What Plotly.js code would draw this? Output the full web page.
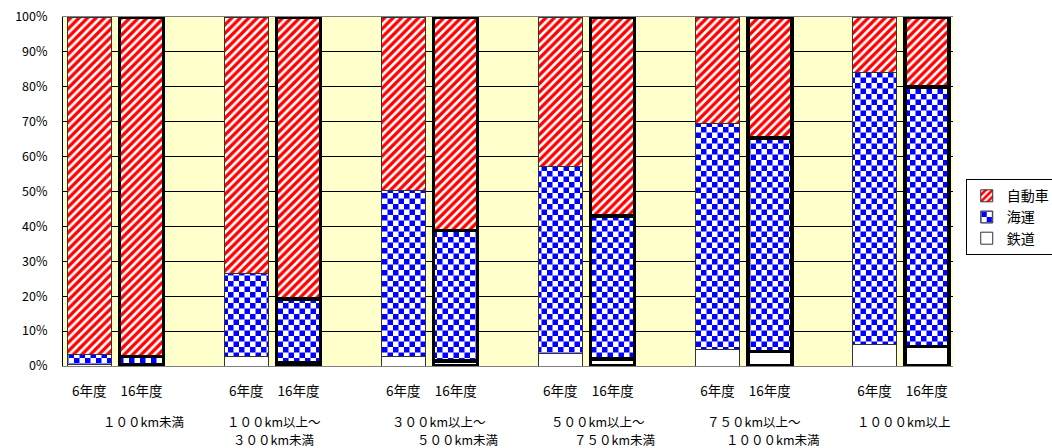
<!DOCTYPE html>
<html>
<head>
<meta charset="utf-8">
<script src="https://cdn.plot.ly/plotly-3.0.1.min.js"></script>
<style>html,body{margin:0;padding:0;background:#fff;}#chart{width:1052px;height:448px;}</style>
</head>
<body>
<div id="chart"></div>
<script>
// ---- data (percent shares) ----
const yearLabels = ["6年度", "16年度"];
const groupLine1 = ["１００km未満", "１００km以上～", "３００km以上～", "５００km以上～", "７５０km以上～", "１０００km以上"];
const groupLine2 = ["", "３００km未満", "５００km未満", "７５０km未満", "１０００km未満", ""];
// order per group: [6年度, 16年度]
const rail  = [0.3, 0.4, 2.6, 1.0, 2.7, 1.4, 3.7, 2.0, 4.8, 4.1, 6.2, 5.6];
const sea   = [2.9, 2.3, 24.0, 18.2, 47.5, 37.4, 53.6, 41.0, 64.8, 61.2, 77.8, 74.4];
const truck = [96.8, 97.3, 73.4, 80.8, 49.8, 61.2, 42.7, 57.0, 30.4, 34.7, 16.0, 20.0];
const seriesNames = ["鉄道", "海運", "自動車"];

// ---- layout helpers ----
const xPos = [];
const tickText = [];
const lineW = [];
const lineC = [];
groupLine1.forEach((g, gi) => {
  yearLabels.forEach((yl, yi) => {
    xPos.push(gi * 3 + yi);
    tickText.push(yl);
    lineW.push(yi === 0 ? 1 : 3.5);
    lineC.push(yi === 0 ? '#333333' : '#000000');
  });
});
const pct = a => a.map(v => v / 100);
const FONT = '"Noto Sans CJK JP", "Noto Sans", sans-serif';

const traces = [
  {
    type: 'bar', name: seriesNames[0], x: xPos, y: pct(rail),
    marker: {color: '#FFFFFF', line: {width: lineW, color: lineC}},
    hoverinfo: 'skip'
  },
  {
    type: 'bar', name: seriesNames[1], x: xPos, y: pct(sea),
    marker: {color: '#0000FF', line: {width: lineW, color: lineC},
      pattern: {shape: '.', fgcolor: '#0000FF', bgcolor: '#FFFFFF', size: 11, solidity: 0.5}},
    hoverinfo: 'skip'
  },
  {
    type: 'bar', name: seriesNames[2], x: xPos, y: pct(truck),
    marker: {color: '#FF0000', line: {width: lineW, color: lineC},
      pattern: {shape: '/', fgcolor: '#FF0000', bgcolor: '#FFFFFF', size: 6, solidity: 0.55}},
    hoverinfo: 'skip'
  }
];

// group label offsets (pixels) relative to pair centre
const line1Shift = [28, 1, 9, 11, 10, 2.5];
const line2Shift = [0, 1, 28, 28, 28.5, 0];
const annotations = [];
groupLine1.forEach((t, i) => {
  annotations.push({xref: 'x', yref: 'paper', x: i * 3 + 0.5, y: 0, yanchor: 'middle', xanchor: 'center',
    yshift: -55, xshift: line1Shift[i], text: t, showarrow: false, borderpad: 0,
    font: {family: FONT, size: 12.5, color: '#000'}});
  if (groupLine2[i]) {
    annotations.push({xref: 'x', yref: 'paper', x: i * 3 + 0.5, y: 0, yanchor: 'middle', xanchor: 'center',
      yshift: -73, xshift: line2Shift[i], text: groupLine2[i], showarrow: false, borderpad: 0,
      font: {family: FONT, size: 12.5, color: '#000'}});
  }
});

const layout = {
  width: 1052, height: 448,
  margin: {l: 63, r: 99, t: 17, b: 82, pad: 0, autoexpand: false},
  paper_bgcolor: '#FFFFFF',
  plot_bgcolor: '#FFFFCC',
  barmode: 'stack',
  bargap: 0.16,
  showlegend: true,
  legend: {xref: 'container', yref: 'container', x: 0.918, y: 0.6, xanchor: 'left', yanchor: 'top',
    traceorder: 'reversed',
    bgcolor: '#FFFFFF', bordercolor: '#000000', borderwidth: 1,
    font: {family: FONT, size: 14, color: '#000'}, itemwidth: 30, tracegroupgap: 0},
  xaxis: {range: [-0.5, 16.5], tickmode: 'array', tickvals: xPos, ticktext: tickText,
    showgrid: false, zeroline: false, showline: true, mirror: true, linecolor: '#808080', linewidth: 1,
    ticks: '', ticklabelstandoff: 13, tickfont: {family: FONT, size: 13.5, color: '#000'}, fixedrange: true},
  yaxis: {range: [0, 1], dtick: 0.1, tickformat: '.0%', showgrid: true, gridcolor: '#000000', gridwidth: 1,
    zeroline: false, showline: true, linecolor: '#000000', linewidth: 1, ticks: '',
    ticklabelstandoff: 12, tickfont: {family: FONT, size: 12.5, color: '#000'}, fixedrange: true},
  annotations: annotations,
  font: {family: FONT}
};

function checkerPatterns(gd) {
  const ns = 'http://www.w3.org/2000/svg';
  gd.querySelectorAll('pattern').forEach(p => {
    if (!p.querySelector('circle')) return;
    const s = 5.5;
    p.setAttribute('width', 2 * s);
    p.setAttribute('height', 2 * s);
    p.setAttribute('patternUnits', 'userSpaceOnUse');
    p.removeAttribute('patternTransform');
    while (p.firstChild) p.removeChild(p.firstChild);
    [[0, 0, 2 * s, 2 * s, '#FFFFFF'], [0, 0, s, s, '#0000FF'], [s, s, s, s, '#0000FF']].forEach(r => {
      const e = document.createElementNS(ns, 'rect');
      e.setAttribute('x', r[0]); e.setAttribute('y', r[1]);
      e.setAttribute('width', r[2]); e.setAttribute('height', r[3]);
      e.setAttribute('fill', r[4]);
      p.appendChild(e);
    });
  });
}

const gd = document.getElementById('chart');
Plotly.newPlot(gd, traces, layout, {displayModeBar: false, staticPlot: true}).then(() => checkerPatterns(gd));
</script>
</body>
</html>
